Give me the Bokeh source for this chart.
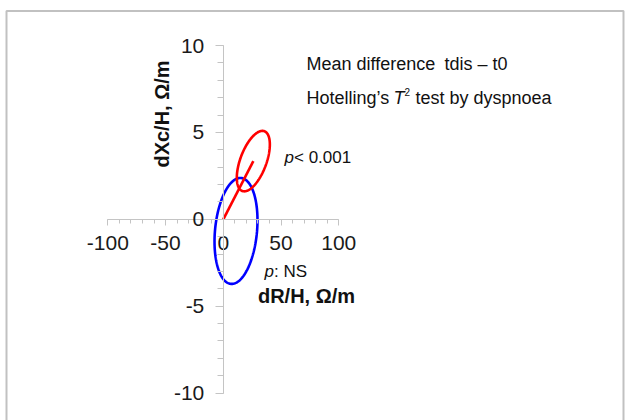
import numpy as np
from bokeh.plotting import figure
from bokeh.models import Label, FixedTicker, Range1d, BoxAnnotation, PrintfTickFormatter
from bokeh.embed import file_html
from bokeh.resources import INLINE

# ---- data ----
groups = ["dyspnoea", "no dyspnoea"]
mean_dR = [26.0, 11.0]        # ellipse centres (mean difference dR/H)
mean_dXc = [3.35, -0.67]      # ellipse centres (mean difference dXc/H)
half_dR = [14.3, 18.6]        # half extent of ellipse along dR/H
half_dXc = [1.74, 3.05]       # half extent of ellipse along dXc/H
corr = [0.55, 0.20]           # tilt (correlation) of each ellipse
show_mean_line = [True, False]
p_values = ["< 0.001", ": NS"]
colors = ["#ff0000", "#0000ff"]

x_ticks = [-100, -50, 0, 50, 100]
x_minor = list(range(-100, 101, 10))
y_ticks = [-10, -5, 0, 5, 10]
y_minor = list(range(-10, 11))

# ---- layout helpers (pixel placement of the page) ----
X0, XS = 222.8, 1.155
Y0, YS = 218.8, 17.37
W, H = 625, 420


def px2x(px):
    return (px - X0) / XS


def py2y(py):
    return (Y0 - py) / YS


p = figure(width=W, height=H, output_backend="svg", toolbar_location=None,
           x_range=Range1d(px2x(0), px2x(W)), y_range=Range1d(py2y(H), py2y(0)),
           min_border=0, outline_line_color=None,
           background_fill_color="white", border_fill_color="white")
p.grid.visible = False

AX_COL = "#c4c4c4"
for ax in (p.xaxis[0], p.yaxis[0]):
    ax.fixed_location = 0
    ax.formatter = PrintfTickFormatter(format="%d")
    ax.axis_line_color = AX_COL
    ax.axis_line_width = 1
    ax.major_tick_line_color = AX_COL
    ax.minor_tick_line_color = AX_COL
    ax.major_tick_in = 0
    ax.minor_tick_in = 0
    ax.major_label_text_font = "Liberation Sans"
    ax.major_label_text_font_size = "21px"
    ax.major_label_text_color = "#1a1a1a"
    ax.major_label_standoff = 11

p.xaxis.ticker = FixedTicker(ticks=x_ticks, minor_ticks=x_minor)
p.xaxis.bounds = (min(x_ticks), max(x_ticks))
p.xaxis.major_tick_out = 6
p.xaxis.minor_tick_out = 4

p.yaxis.ticker = FixedTicker(ticks=y_ticks, minor_ticks=y_minor)
p.yaxis.bounds = (min(y_ticks), max(y_ticks))
p.yaxis.major_tick_out = 8
p.yaxis.minor_tick_out = 6

# ---- ellipses and mean vectors ----
t = np.linspace(0, 2 * np.pi, 240)
for i in [1, 0]:
    ex = mean_dR[i] + half_dR[i] * np.cos(t)
    ey = mean_dXc[i] + half_dXc[i] * (corr[i] * np.cos(t) + np.sqrt(1 - corr[i] ** 2) * np.sin(t))
    p.line(ex, ey, line_color=colors[i], line_width=2.6)
for i in [0, 1]:
    if show_mean_line[i]:
        p.line([0, mean_dR[i]], [0, mean_dXc[i]], line_color=colors[i], line_width=2.6)

# ---- texts ----
FONT = "Liberation Sans"
TXT = "#111111"


def lab(px, py, text, size, style="normal", align="left", angle=0.0, color=TXT):
    p.add_layout(Label(x=px2x(px), y=py2y(py), text=text, text_font=FONT,
                       text_font_size=f"{size}px", text_font_style=style,
                       text_align=align, text_baseline="middle", angle=angle,
                       text_color=color))


lab(161, 113.5, "dXc/H, Ω/m", 20, "bold", "center", np.pi / 2)
lab(306, 295, "dR/H, Ω/m", 20, "bold", "center")

lab(306, 63, "Mean difference", 18)
lab(444, 63, "tdis – t0", 18)
lab(306, 97, "Hotelling’s", 18)
lab(393, 97, "T", 18, "italic")
lab(404, 91, "2", 10)
lab(415, 97, "test by dyspnoea", 18)

lab(284, 157, "p", 17, "italic")
lab(293.5, 157, p_values[0], 17)
lab(264, 271, "p", 17, "italic")
lab(273.5, 271, p_values[1], 17)

# ---- page border ----
try:
    border = BoxAnnotation(left=6, right=623, top=10.5, bottom=H + 20,
                           left_units="canvas", right_units="canvas",
                           top_units="canvas", bottom_units="canvas",
                           fill_color=None, line_color="#333333", line_width=2)
except Exception:
    border = BoxAnnotation(left=px2x(6), right=px2x(623), top=py2y(10.5), bottom=py2y(H + 20),
                           fill_color=None, line_color="#333333", line_width=2)
p.add_layout(border)

open("out.html", "w").write(file_html(p, INLINE))
